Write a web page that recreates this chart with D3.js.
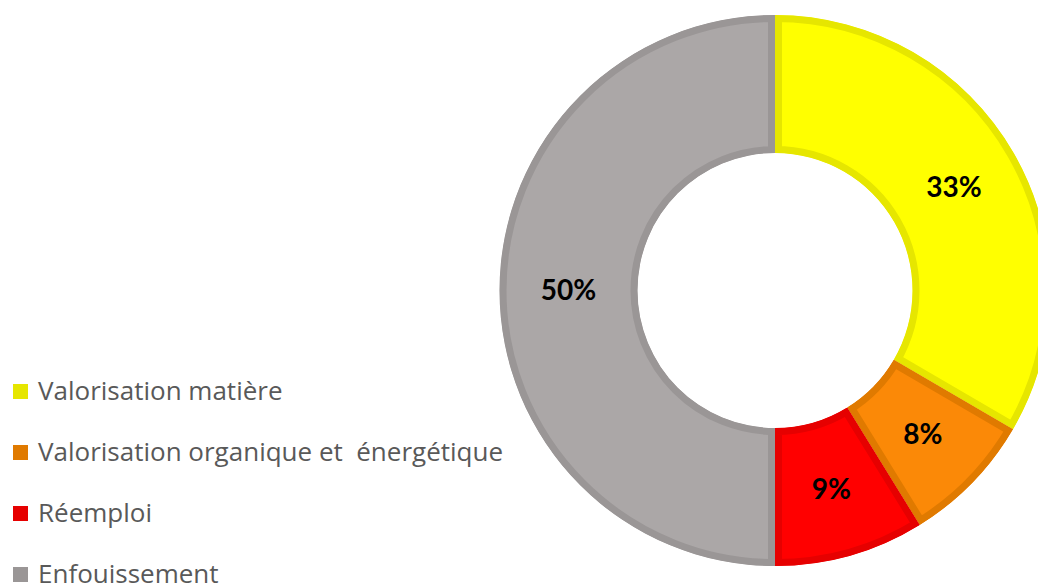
<!DOCTYPE html>
<html>
<head>
<meta charset="utf-8">
<script src="https://cdn.jsdelivr.net/npm/d3@7"></script>
<style>
  body { margin: 0; background: #fff; }
  svg { display: block; }
</style>
</head>
<body>
<div class="donut"></div>
<script>
// chart values
var categories = ["Valorisation matière", "Valorisation organique et  énergétique", "Réemploi", "Enfouissement"];
var shares = [33.4, 7.8, 8.8, 50];
var fills = ["#FFFF00", "#FB8907", "#FF0000", "#ABA7A7"];
var borders = ["#E6E600", "#E07A00", "#E60000", "#9A9696"];

var svg_width = 1038;
var svg_height = 586;

visDonut();

function visDonut() {
  var svg = d3.select(".donut").append("svg")
      .attr("width", svg_width).attr("height", svg_height);

  var cx = 775, cy = 290.5,
      outer = 275.5, inner = 137.5, border = 7;

  var data = categories.map(function(c, i) {
    return { name: c, value: shares[i], fill: fills[i], stroke: borders[i] };
  });

  var pie = d3.pie()
      .sort(null)
      .value(function(d) { return d.value; });

  var path = d3.arc()
      .outerRadius(outer)
      .innerRadius(inner);

  var g = svg.append("g")
      .attr("transform", "translate(" + cx + "," + cy + ")");

  var arcs = pie(data);

  // clip each slice so the border sits inside it, like the original
  var defs = svg.append("defs");
  defs.selectAll("clipPath")
    .data(arcs)
    .enter().append("clipPath")
      .attr("id", function(d, i) { return "clip" + i; })
    .append("path")
      .attr("d", path);

  var arc = g.selectAll(".arc")
    .data(arcs)
    .enter().append("g")
      .attr("class", "arc");

  arc.append("path")
      .attr("d", path)
      .attr("fill", function(d) { return d.data.fill; })
      .attr("stroke", function(d) { return d.data.stroke; })
      .attr("stroke-width", border * 2)
      .attr("clip-path", function(d, i) { return "url(#clip" + i + ")"; });

  arc.append("text")
      .attr("transform", function(d) { return "translate(" + path.centroid(d) + ")"; })
      .attr("dy", "0.35em")
      .text(function(d) { return Math.round(d.data.value) + "%"; })
      .style("text-anchor", "middle")
      .style("font", "bold 28px Lato, sans-serif")
      .style("fill", "#000");

  // legend
  var legend = svg.append("g").attr("class", "legend");
  var y = d3.scalePoint()
      .domain(categories)
      .range([391, 574]);

  var item = legend.selectAll(".item")
    .data(data)
    .enter().append("g")
      .attr("class", "item")
      .attr("transform", function(d) { return "translate(0," + y(d.name) + ")"; });

  item.append("rect")
      .attr("x", 13).attr("y", -7)
      .attr("width", 15).attr("height", 15)
      .attr("fill", function(d) { return d.stroke; });

  item.append("text")
      .attr("x", 38)
      .attr("dy", "0.35em")
      .text(function(d) { return d.name; })
      .style("white-space", "pre")
      .style("font", "26px 'Open Sans', sans-serif")
      .style("fill", "#595959");
}
</script>
</body>
</html>
